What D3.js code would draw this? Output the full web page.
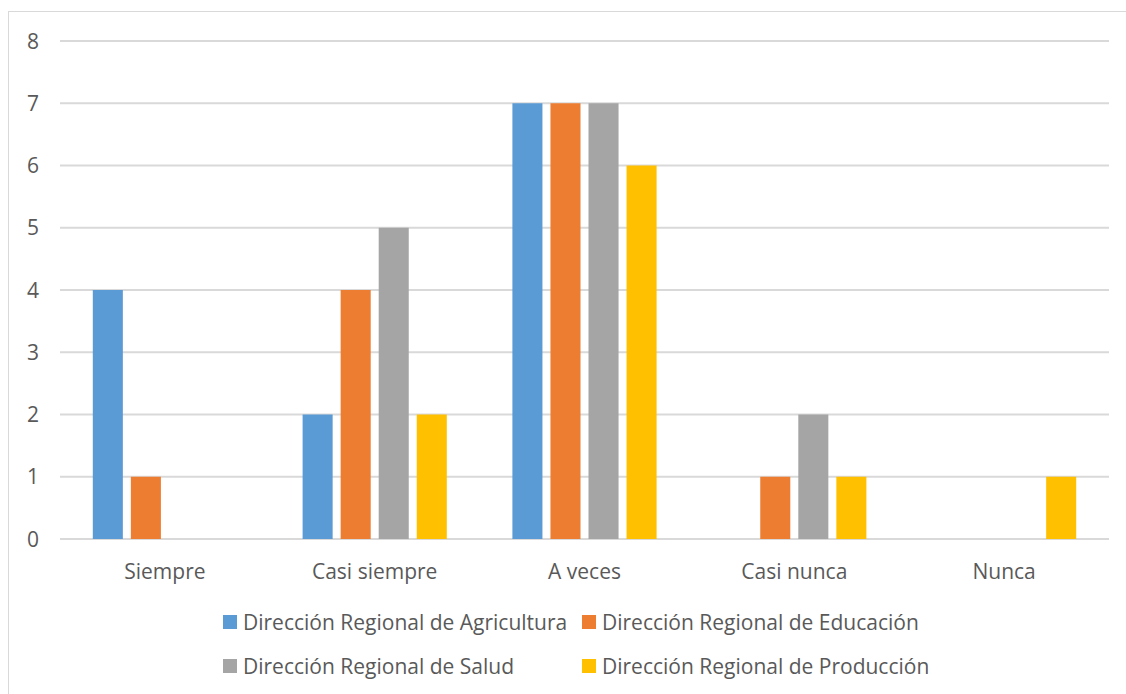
<!DOCTYPE html>
<html>
<head>
<meta charset="utf-8">
<script src="https://d3js.org/d3.v7.min.js"></script>
<style>
  body { margin: 0; background: #fff; }
  text { font-family: "Open Sans", sans-serif; fill: #595959; }
</style>
</head>
<body>
<div id="chart"></div>
<script>
var categories = ["Siempre", "Casi siempre", "A veces", "Casi nunca", "Nunca"];
var seriesNames = ["Dirección Regional de Agricultura", "Dirección Regional de Educación",
                   "Dirección Regional de Salud", "Dirección Regional de Producción"];
var agricultura = [4, 2, 7, 0, 0];
var educacion   = [1, 4, 7, 1, 0];
var salud       = [0, 5, 7, 2, 0];
var produccion  = [0, 2, 6, 1, 1];
var yTicks = [0, 1, 2, 3, 4, 5, 6, 7, 8];
var colors = ["#5B9BD5", "#ED7D31", "#A5A5A5", "#FFC000"];

var series = [agricultura, educacion, salud, produccion];

var W = 1126, H = 694;
var svg = d3.select("#chart").append("svg")
    .attr("width", W).attr("height", H);

// outer chart border
svg.append("rect")
    .attr("x", 8.5).attr("y", 11.5)
    .attr("width", W + 20).attr("height", H + 20)
    .attr("fill", "none").attr("stroke", "#d9d9d9").attr("stroke-width", 1);

var pLeft = 60, pRight = 1109, pTop = 41, pBottom = 539;

var x0 = d3.scaleBand().domain(categories).range([pLeft, pRight]);
var x1 = d3.scaleBand().domain(d3.range(series.length))
    .range([32.8, x0.bandwidth() - 32.8]).paddingInner(8 / 38);
var y = d3.scaleLinear().domain([0, 8]).range([pBottom, pTop]);

// gridlines
svg.append("g").selectAll("line").data(yTicks).join("line")
    .attr("x1", pLeft).attr("x2", pRight)
    .attr("y1", function(d){ return y(d); }).attr("y2", function(d){ return y(d); })
    .attr("stroke", "#d9d9d9").attr("stroke-width", 2);

// y labels
svg.append("g").selectAll("text").data(yTicks).join("text")
    .attr("x", 39).attr("y", function(d){ return y(d); })
    .attr("dy", "0.36em").attr("text-anchor", "end")
    .style("font-size", "21px")
    .text(function(d){ return d; });

// bars
var groups = svg.append("g").selectAll("g").data(categories).join("g")
    .attr("transform", function(d){ return "translate(" + x0(d) + ",0)"; });

groups.selectAll("rect")
    .data(function(c, ci){ return series.map(function(s, si){ return {si: si, v: s[ci]}; }); })
    .join("rect")
    .attr("x", function(d){ return x1(d.si); })
    .attr("width", x1.bandwidth())
    .attr("y", function(d){ return y(d.v); })
    .attr("height", function(d){ return y(0) - y(d.v); })
    .attr("fill", function(d){ return colors[d.si]; });

// x labels
svg.append("g").selectAll("text").data(categories).join("text")
    .attr("x", function(d){ return x0(d) + x0.bandwidth() / 2; })
    .attr("y", 571).attr("dy", "0.36em").attr("text-anchor", "middle")
    .style("font-size", "21px")
    .text(function(d){ return d; });

// legend
var legendPos = [[223, 622], [582, 622], [223, 666], [582, 666]];
var leg = svg.append("g").selectAll("g").data(seriesNames).join("g")
    .attr("transform", function(d, i){ return "translate(" + legendPos[i][0] + "," + legendPos[i][1] + ")"; });
leg.append("rect")
    .attr("x", 0).attr("y", -7).attr("width", 14).attr("height", 14)
    .attr("fill", function(d, i){ return colors[i]; });
leg.append("text")
    .attr("x", 20).attr("y", 0).attr("dy", "0.36em")
    .style("font-size", "21px")
    .text(function(d){ return d; });
</script>
</body>
</html>
